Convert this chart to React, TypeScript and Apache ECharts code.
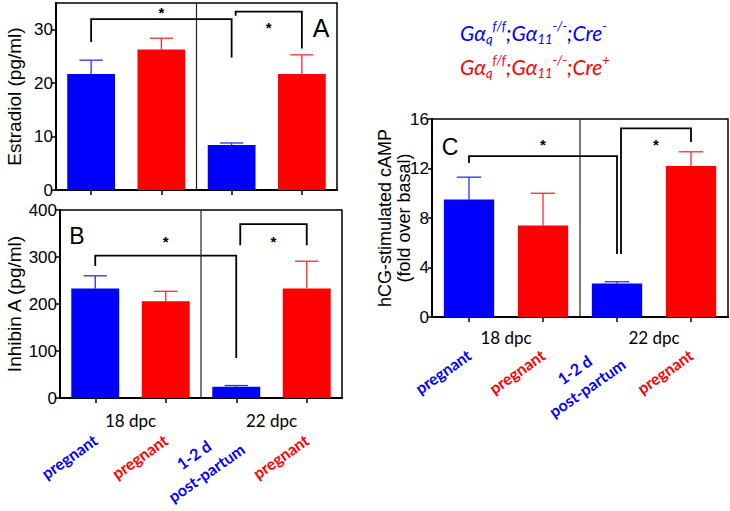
import React, { useEffect, useRef } from 'react';
import * as echarts from 'echarts';

// ---------- data ----------
const barLabels = ['pregnant', 'pregnant', '1-2 d\npost-partum', 'pregnant'];
const genotype = ['neg', 'pos', 'neg', 'pos'];
const stages = ['18 dpc', '22 dpc'];
const stageDivider = [[1, 2]];

const estradiolMean = [21.7, 26.3, 8.4, 21.7];
const estradiolUpper = [24.3, 28.4, 8.8, 25.3];
const estradiolTicks = [0, 10, 20, 30];

const inhibinMean = [233, 206, 24, 233];
const inhibinUpper = [260, 227, 26.5, 291];

const campMean = [9.5, 7.4, 2.7, 12.2];
const campUpper = [11.3, 10.0, 2.85, 13.35];

// [fromBar, toBar, bracketLevel, leftLegEnd, rightLegEnd, starLevel]
const estradiolBrackets = [
  [0, 2, 32.0, 27.7, 24.8, 33.7],
  [2, 3, 33.4, 32.6, 26.5, 30.9],
];
const inhibinBrackets = [
  [0, 2, 303, 281, 85, 340],
  [2, 3, 370, 325, 325, 340],
];
const campBrackets = [
  [0, 2, 13.0, 12.45, 5.1, 14.17],
  [2, 3, 15.25, 5.1, 14.15, 14.17],
];

const legendLines = [
  { key: 'neg', cre: '-' },
  { key: 'pos', cre: '+' },
];

// ---------- styles ----------
const COLORS: Record<string, string> = { neg: '#0000ff', pos: '#ff0000' };
const ERR_COLORS: Record<string, string> = { neg: '#2a2aff', pos: '#ff2a2a' };
const ARIAL = "'Liberation Sans', Arial, sans-serif";
const NARROW = "'Liberation Sans Narrow', 'Liberation Sans', Arial, sans-serif";
const CAL = "Lato, 'Open Sans', sans-serif";
const LABEL_ROT = (35 * Math.PI) / 180;

const errorRender = (params: any, api: any) => {
  const i = api.value(0);
  const base = api.coord([i, api.value(1)]);
  const top = api.coord([i, api.value(2)]);
  const band = api.size([1, 0])[0];
  const half = band * 0.165;
  const c = ERR_COLORS[genotype[i]];
  return {
    type: 'group',
    children: [
      { type: 'line', shape: { x1: base[0], y1: base[1], x2: top[0], y2: top[1] }, style: { stroke: c, lineWidth: 1.3 } },
      { type: 'line', shape: { x1: top[0] - half, y1: top[1], x2: top[0] + half, y2: top[1] }, style: { stroke: c, lineWidth: 1.3 } },
    ],
  };
};

const bracketRender = (params: any, api: any) => {
  const a = api.value(0);
  const b = api.value(1);
  const shift = params.dataIndex === 1 ? 4 : 0;
  const t1 = api.coord([a, api.value(2)]);
  const t2 = api.coord([b, api.value(2)]);
  const l1 = api.coord([a, api.value(3)]);
  const l2 = api.coord([b, api.value(4)]);
  const s = api.coord([a, api.value(5)]);
  const x1 = t1[0] + shift;
  const x2 = t2[0];
  return {
    type: 'group',
    children: [
      {
        type: 'polyline',
        shape: { points: [[x1, l1[1]], [x1, t1[1]], [x2, t1[1]], [x2, l2[1]]] },
        style: { stroke: '#000', lineWidth: 1.8, fill: 'none' },
      },
      {
        type: 'text',
        x: (x1 + x2) / 2,
        y: s[1] + 3,
        style: { text: '*', fill: '#000', font: `bold 15px ${ARIAL}`, align: 'center', verticalAlign: 'middle' },
      },
    ],
  };
};

const dividerRender = (params: any, api: any) => {
  const cs = params.coordSys;
  const p1 = api.coord([api.value(0), 0]);
  const p2 = api.coord([api.value(1), 0]);
  const x = (p1[0] + p2[0]) / 2;
  return {
    type: 'line',
    shape: { x1: x, y1: cs.y, x2: x, y2: cs.y + cs.height },
    style: { stroke: '#222', lineWidth: 1.2 },
  };
};

const labelRich: any = {};
Object.keys(COLORS).forEach((k) => {
  labelRich[k] = {
    fill: COLORS[k],
    fontFamily: CAL,
    fontWeight: 'bold',
    fontSize: 16,
    lineHeight: 22,
    align: 'center',
  };
});
const labelText = (i: number) =>
  barLabels[i]
    .split('\n')
    .map((l) => `{${genotype[i]}|${l}}`)
    .join('\n');

const makeLabelRender = (margin: number) => (params: any, api: any) => {
  const i = api.value(0);
  const p = api.coord([i, 0]);
  return {
    type: 'text',
    x: p[0],
    y: p[1] + margin,
    rotation: LABEL_ROT,
    style: { text: labelText(i), rich: labelRich, align: 'right', verticalAlign: 'middle' },
  };
};

function mainXAxis(gridIndex: number) {
  return {
    type: 'category',
    gridIndex,
    position: 'bottom',
    data: barLabels,
    axisLine: { show: true, lineStyle: { color: '#000', width: 2 } },
    axisTick: { show: true, alignWithLabel: true, interval: 0, length: 5, lineStyle: { color: '#000', width: 1.5 } },
    splitLine: { show: false },
    axisLabel: { show: false },
  };
}
function stageXAxis(gridIndex: number, margin: number) {
  return {
    type: 'category',
    gridIndex,
    position: 'bottom',
    data: stages,
    axisLine: { show: false },
    axisTick: { show: false },
    splitLine: { show: false },
    axisLabel: { margin, fontSize: 17, fontFamily: CAL, color: '#000', interval: 0 },
  };
}
function yAxis(gridIndex: number, max: number, interval: number, name: string, nameGap: number, nameSize: number, extra: any = {}) {
  return {
    type: 'value',
    gridIndex,
    min: 0,
    max,
    interval,
    name,
    nameLocation: 'middle',
    nameGap,
    nameMoveOverlap: false,
    nameTextStyle: { fontSize: nameSize, fontFamily: ARIAL, color: '#000', lineHeight: nameSize + 1 },
    axisLine: { show: true, lineStyle: { color: '#000', width: 2 } },
    axisTick: { show: true, length: 4, lineStyle: { color: '#000', width: 1.5 }, ...(extra.ticks ? { customValues: extra.ticks } : {}) },
    axisLabel: { fontSize: 17, fontFamily: NARROW, color: '#000', margin: 3, ...(extra.ticks ? { customValues: extra.ticks } : {}) },
    splitLine: { show: false },
  };
}

function barSeries(idx: number, values: number[]) {
  return {
    type: 'bar',
    xAxisIndex: idx,
    yAxisIndex: idx,
    barWidth: '68%',
    data: values.map((v, i) => ({ value: v, itemStyle: { color: COLORS[genotype[i]] } })),
    z: 2,
  };
}
function errSeries(idx: number, mean: number[], upper: number[]) {
  return {
    type: 'custom',
    xAxisIndex: idx,
    yAxisIndex: idx,
    renderItem: errorRender,
    encode: { x: 0, y: 2 },
    data: mean.map((m, i) => [i, m, upper[i]]),
    clip: false,
    z: 1,
  };
}
function bracketSeries(idx: number, data: number[][]) {
  return {
    type: 'custom',
    xAxisIndex: idx,
    yAxisIndex: idx,
    renderItem: bracketRender,
    encode: { x: 0, y: 2 },
    data,
    clip: false,
    z: 3,
  };
}
function dividerSeries(idx: number) {
  return {
    type: 'custom',
    xAxisIndex: idx,
    yAxisIndex: idx,
    renderItem: dividerRender,
    encode: { x: 0 },
    data: stageDivider,
    clip: false,
    z: 3,
  };
}
function labelSeries(idx: number, margin: number) {
  return {
    type: 'custom',
    xAxisIndex: idx,
    yAxisIndex: idx,
    renderItem: makeLabelRender(margin),
    encode: { x: 0 },
    data: barLabels.map((_, i) => [i]),
    clip: false,
    silent: true,
    z: 3,
  };
}

function legendText(cre: string) {
  return `{m|Gα}{sub|q}{sup|f/f}{m|;Gα}{sub|11}{sup|-/-}{m|;Cre}{sup|${cre}}`;
}
function legendRich(fill: string) {
  const base = { fill, fontFamily: CAL, fontStyle: 'italic' };
  return {
    m: { ...base, fontSize: 21, lineHeight: 26, verticalAlign: 'middle' },
    sub: { ...base, fontSize: 13, lineHeight: 13, verticalAlign: 'bottom' },
    sup: { ...base, fontSize: 13, lineHeight: 13, verticalAlign: 'top' },
  };
}

export default function App() {
  const ref = useRef<HTMLDivElement>(null);
  useEffect(() => {
    if (!ref.current) return;
    const chart = echarts.init(ref.current, undefined, { renderer: 'svg' });
    const gridStyle = { show: true, borderColor: '#000', borderWidth: 1.5, containLabel: false };
    chart.setOption({
      animation: false,
      backgroundColor: '#fff',
      grid: [
        { left: 56, top: 3, width: 281, height: 187, ...gridStyle },
        { left: 60, top: 210, width: 282, height: 188, ...gridStyle },
        { left: 432, top: 119, width: 296, height: 198, ...gridStyle },
      ],
      xAxis: [mainXAxis(0), mainXAxis(1), mainXAxis(2), stageXAxis(1, 14), stageXAxis(2, 12)],
      yAxis: [
        yAxis(0, 35, 5, 'Estradiol (pg/ml)', 32, 19, { ticks: estradiolTicks }),
        yAxis(1, 400, 100, 'Inhibin A (pg/ml)', 36, 19),
        yAxis(2, 16, 4, 'hCG-stimulated cAMP\n(fold over basal)', 19, 18),
      ],
      series: [
        barSeries(0, estradiolMean),
        errSeries(0, estradiolMean, estradiolUpper),
        bracketSeries(0, estradiolBrackets),
        dividerSeries(0),
        barSeries(1, inhibinMean),
        errSeries(1, inhibinMean, inhibinUpper),
        bracketSeries(1, inhibinBrackets),
        dividerSeries(1),
        labelSeries(1, 40),
        barSeries(2, campMean),
        errSeries(2, campMean, campUpper),
        bracketSeries(2, campBrackets),
        dividerSeries(2),
        labelSeries(2, 36),
      ],
      graphic: [
        ...legendLines.map((l, i) => ({
          type: 'text',
          x: 460,
          y: 19 + i * 34,
          style: { text: legendText(l.cre), rich: legendRich(COLORS[l.key]), align: 'left', verticalAlign: 'top' },
        })),
        { type: 'text', x: 321, y: 28, style: { text: 'A', font: `25px ${ARIAL}`, fill: '#000', align: 'center', verticalAlign: 'middle' } },
        { type: 'text', x: 77, y: 236, style: { text: 'B', font: `23px ${ARIAL}`, fill: '#000', align: 'center', verticalAlign: 'middle' } },
        { type: 'text', x: 450, y: 147, style: { text: 'C', font: `23px ${ARIAL}`, fill: '#000', align: 'center', verticalAlign: 'middle' } },
      ],
    });
    return () => chart.dispose();
  }, []);
  return <div ref={ref} style={{ position: 'fixed', left: 0, top: 0, width: 730, height: 511, background: '#fff' }} />;
}
